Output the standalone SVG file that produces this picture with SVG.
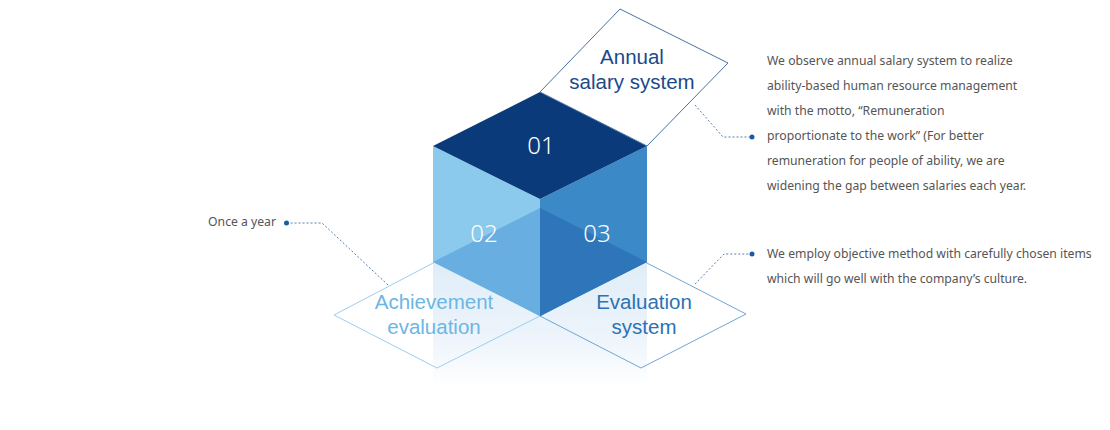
<svg xmlns="http://www.w3.org/2000/svg" width="1110" height="430" viewBox="0 0 1110 430">
  <defs>
    <linearGradient id="fade" x1="0" y1="0" x2="0" y2="1">
      <stop offset="0" stop-color="#DFEDF8"/>
      <stop offset="0.6" stop-color="#EDF4FB"/>
      <stop offset="1" stop-color="#FFFFFF"/>
    </linearGradient>
    <style>
      .lbl { font-family: "Liberation Sans", Arial, sans-serif; font-size: 20.5px; text-anchor: middle; }
      .num { font-family: "Noto Sans", "Liberation Sans", sans-serif; font-size: 24px; fill: #FFFFFF; text-anchor: middle; font-weight: 300; }
      .note { font-family: "Noto Sans", "Liberation Sans", sans-serif; font-size: 12.2px; fill: #555555; }
      .dot { fill: #1B5C9E; }
      .lead { fill: none; stroke: #5A7FA8; stroke-width: 1; stroke-dasharray: 2 2; }
    </style>
  </defs>
  <rect width="1110" height="430" fill="#FFFFFF"/>

  <!-- fading column below cube -->
  <rect x="433" y="262" width="214" height="125" fill="url(#fade)"/>

  <g id="achievement-evaluation">
    <polygon points="334,315 437,261 540,316 437,368" fill="none" stroke="#9DCEEF" stroke-width="1"/>
    <text class="lbl" x="434" y="309" fill="#6CB6E6">Achievement</text>
    <text class="lbl" x="434" y="334" fill="#6CB6E6">evaluation</text>
  </g>

  <g id="evaluation-system">
    <polygon points="540,316 643,261 746,314 641,368" fill="none" stroke="#6FA6D7" stroke-width="1"/>
    <text class="lbl" x="644" y="309" fill="#2C72B4">Evaluation</text>
    <text class="lbl" x="644" y="334" fill="#2C72B4">system</text>
  </g>

  <g id="node-02">
    <polygon points="433,146 540,199 540,316 433,262" fill="#8BC9ED"/>
    <polygon points="540,208 433,262 540,316" fill="#68AEE0"/>
    <text class="num" x="484" y="242">02</text>
  </g>

  <g id="node-03">
    <polygon points="647,146 540,199 540,316 647,262" fill="#3B89C6"/>
    <polygon points="540,208 647,262 540,316" fill="#2E76B9"/>
    <text class="num" x="597" y="242">03</text>
  </g>

  <g id="node-01">
    <polygon points="433,146 540,92 647,146 540,199" fill="#0B3A7A"/>
    <text class="num" x="541" y="154">01</text>
  </g>

  <g id="annual-salary-system">
    <polygon points="540,92 620,9 728,63 647,146" fill="#FFFFFF" stroke="#4671A2" stroke-width="1"/>
    <text class="lbl" x="632" y="64" fill="#1B4A8A">Annual</text>
    <text class="lbl" x="632" y="89" fill="#1B4A8A">salary system</text>
  </g>

  <g id="connectors">
    <polyline class="lead" points="695,105 723,137 750,137"/>
    <polyline class="lead" points="388,285 322,223 289,223"/>
    <polyline class="lead" points="695,284 724,254 750,254"/>
    <circle class="dot" cx="752" cy="137" r="2.5"/>
    <circle class="dot" cx="286.5" cy="223" r="2.5"/>
    <circle class="dot" cx="752" cy="254" r="2.5"/>
  </g>

  <g id="note-annual">
    <text class="note" x="767" y="65">We observe annual salary system to realize</text>
    <text class="note" x="767" y="90">ability-based human resource management</text>
    <text class="note" x="767" y="115">with the motto, “Remuneration</text>
    <text class="note" x="767" y="140">proportionate to the work” (For better</text>
    <text class="note" x="767" y="165">remuneration for people of ability, we are</text>
    <text class="note" x="767" y="190">widening the gap between salaries each year.</text>
  </g>

  <g id="note-achievement">
    <text class="note" x="276" y="226" text-anchor="end">Once a year</text>
  </g>

  <g id="note-evaluation">
    <text class="note" x="767" y="258">We employ objective method with carefully chosen items</text>
    <text class="note" x="767" y="283">which will go well with the company’s culture.</text>
  </g>
</svg>
